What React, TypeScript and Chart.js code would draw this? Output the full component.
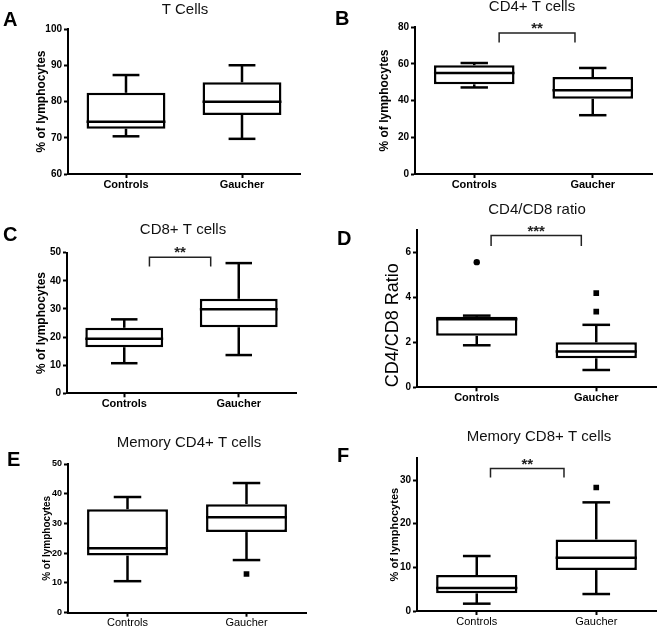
import React, { useEffect, useRef } from 'react';
import { Chart, registerables } from 'chart.js';

Chart.register(...registerables);

const FONT = '"Liberation Sans", Arial, sans-serif';
const categories = ['Controls', 'Gaucher'];

// A: T Cells
const tCellsQ1 = [72.5, 76.3];
const tCellsMedian = [74.4, 79.9];
const tCellsQ3 = [82.4, 85.3];
const tCellsMin = [70.4, 69.7];
const tCellsMax = [87.3, 90.0];
const tCellsTicks = [60, 70, 80, 90, 100];

// B: CD4+ T cells
const cd4Q1 = [48.8, 40.9];
const cd4Median = [55.0, 45.6];
const cd4Q3 = [59.2, 52.8];
const cd4Min = [47.1, 32.0];
const cd4Max = [60.4, 57.7];
const cd4Ticks = [0, 20, 40, 60, 80];

// C: CD8+ T cells
const cd8Q1 = [16.4, 23.5];
const cd8Median = [19.4, 29.9];
const cd8Q3 = [23.3, 33.6];
const cd8Min = [10.7, 13.6];
const cd8Max = [26.3, 46.3];
const cd8Ticks = [0, 10, 20, 30, 40, 50];

// D: CD4/CD8 ratio
const ratioQ1 = [2.29, 1.29];
const ratioMedian = [3.03, 1.59];
const ratioQ3 = [3.14, 2.0];
const ratioMin = [1.87, 0.77];
const ratioMax = [3.19, 2.78];
const ratioOutlierGroups = ['Controls', 'Gaucher', 'Gaucher'];
const ratioOutlierValues = [5.57, 4.19, 3.37];
const ratioTicks = [0, 2, 4, 6];

// E: Memory CD4+ T cells
const memCd4Q1 = [19.2, 27.1];
const memCd4Median = [21.7, 32.1];
const memCd4Q3 = [34.8, 36.5];
const memCd4Min = [10.6, 17.7];
const memCd4Max = [38.9, 43.6];
const memCd4OutlierGroups = ['Gaucher'];
const memCd4OutlierValues = [13.0];
const memCd4Ticks = [0, 10, 20, 30, 40, 50];

// F: Memory CD8+ T cells
const memCd8Q1 = [4.05, 9.38];
const memCd8Median = [5.3, 12.2];
const memCd8Q3 = [8.24, 16.4];
const memCd8Min = [1.68, 3.89];
const memCd8Max = [12.6, 24.9];
const memCd8OutlierGroups = ['Gaucher'];
const memCd8OutlierValues = [28.3];
const memCd8Ticks = [0, 10, 20, 30];

// significance brackets: [from category position, to category position], [top value, bottom value]
const cd4Bracket = { x: [0.21, 0.85], y: [76.7, 71.5], label: '**' };
const cd8Bracket = { x: [0.22, 0.755], y: [48.4, 45.1], label: '**' };
const ratioBracket = { x: [0.12, 0.875], y: [6.75, 6.29], label: '***' };
const memCd8Bracket = { x: [0.115, 0.73], y: [32.65, 30.6], label: '**' };

type Font = { size: number; weight: string };

interface PanelCfg {
  x: number; y: number; w: number; h: number;
  area: { left: number; right: number; top: number; bottom: number };
  yMin: number; yMax: number; ticks: number[];
  title: string; titlePos: [number, number];
  letter: string; letterPos: [number, number];
  yLabel: string; yLabelX: number; yLabelFont: Font; yLabelAlign?: string;
  yTickFont: Font; xTickFont: Font;
  q1: number[]; med: number[]; q3: number[]; lo: number[]; hi: number[];
  outGroups?: string[]; outValues?: number[];
  bracket?: { x: number[]; y: number[]; label: string };
}

const boldTick: Font = { size: 10, weight: 'bold' };
const boldX: Font = { size: 11, weight: 'bold' };

const panels: PanelCfg[] = [
  {
    x: 0, y: 0, w: 330, h: 205,
    area: { left: 68, right: 300, top: 29, bottom: 174 },
    yMin: 60, yMax: 100, ticks: tCellsTicks,
    title: 'T Cells', titlePos: [185, 10], letter: 'A', letterPos: [3, 20.5],
    yLabel: '% of lymphocytes', yLabelX: 42, yLabelFont: { size: 12, weight: 'bold' },
    yTickFont: boldTick, xTickFont: boldX,
    q1: tCellsQ1, med: tCellsMedian, q3: tCellsQ3, lo: tCellsMin, hi: tCellsMax,
  },
  {
    x: 330, y: 0, w: 330, h: 205,
    area: { left: 85, right: 322, top: 27, bottom: 174 },
    yMin: 0, yMax: 80, ticks: cd4Ticks,
    title: 'CD4+ T cells', titlePos: [202, 6.5], letter: 'B', letterPos: [5, 19.5],
    yLabel: '% of lymphocytes', yLabelX: 55, yLabelFont: { size: 12, weight: 'bold' },
    yTickFont: boldTick, xTickFont: boldX,
    q1: cd4Q1, med: cd4Median, q3: cd4Q3, lo: cd4Min, hi: cd4Max,
    bracket: cd4Bracket,
  },
  {
    x: 0, y: 195, w: 330, h: 220,
    area: { left: 67, right: 296, top: 57.7, bottom: 198.3 },
    yMin: 0, yMax: 50, ticks: cd8Ticks,
    title: 'CD8+ T cells', titlePos: [183, 35], letter: 'C', letterPos: [3, 40],
    yLabel: '% of lymphocytes', yLabelX: 42, yLabelFont: { size: 12, weight: 'bold' },
    yTickFont: boldTick, xTickFont: boldX,
    q1: cd8Q1, med: cd8Median, q3: cd8Q3, lo: cd8Min, hi: cd8Max,
    bracket: cd8Bracket,
  },
  {
    x: 330, y: 195, w: 330, h: 220,
    area: { left: 87, right: 327, top: 35, bottom: 192.3 },
    yMin: 0, yMax: 7, ticks: ratioTicks,
    title: 'CD4/CD8 ratio', titlePos: [207, 15], letter: 'D', letterPos: [7, 44.5],
    yLabel: 'CD4/CD8 Ratio', yLabelX: 63, yLabelFont: { size: 18, weight: 'normal' }, yLabelAlign: 'start',
    yTickFont: boldTick, xTickFont: boldX,
    q1: ratioQ1, med: ratioMedian, q3: ratioQ3, lo: ratioMin, hi: ratioMax,
    outGroups: ratioOutlierGroups, outValues: ratioOutlierValues,
    bracket: ratioBracket,
  },
  {
    x: 0, y: 410, w: 330, h: 218,
    area: { left: 68, right: 306, top: 54, bottom: 202.7 },
    yMin: 0, yMax: 50, ticks: memCd4Ticks,
    title: 'Memory CD4+ T cells', titlePos: [189, 33], letter: 'E', letterPos: [7, 50],
    yLabel: '% of lymphocytes', yLabelX: 47, yLabelFont: { size: 10, weight: 'bold' },
    yTickFont: { size: 9, weight: 'bold' }, xTickFont: { size: 11, weight: 'normal' },
    q1: memCd4Q1, med: memCd4Median, q3: memCd4Q3, lo: memCd4Min, hi: memCd4Max,
    outGroups: memCd4OutlierGroups, outValues: memCd4OutlierValues,
  },
  {
    x: 330, y: 410, w: 330, h: 218,
    area: { left: 87, right: 329, top: 48.3, bottom: 201 },
    yMin: 0, yMax: 35, ticks: memCd8Ticks,
    title: 'Memory CD8+ T cells', titlePos: [209, 27], letter: 'F', letterPos: [7, 46.5],
    yLabel: '% of lymphocytes', yLabelX: 65, yLabelFont: { size: 11, weight: 'bold' },
    yTickFont: { size: 10, weight: 'bold' }, xTickFont: { size: 11, weight: 'normal' },
    q1: memCd8Q1, med: memCd8Median, q3: memCd8Q3, lo: memCd8Min, hi: memCd8Max,
    outGroups: memCd8OutlierGroups, outValues: memCd8OutlierValues,
    bracket: memCd8Bracket,
  },
];

function makePlugin(cfg: PanelCfg) {
  return {
    id: 'boxDecor' + cfg.letter,
    afterDatasetsDraw(chart: any) {
      const ctx = chart.ctx;
      const xs = chart.scales.x;
      const ys = chart.scales.y;
      const meta = chart.getDatasetMeta(0);
      const line = (x1: number, y1: number, x2: number, y2: number) => {
        ctx.beginPath();
        ctx.moveTo(x1, y1);
        ctx.lineTo(x2, y2);
        ctx.stroke();
      };
      ctx.save();
      ctx.strokeStyle = '#000';
      ctx.lineWidth = 2.5;
      ctx.lineCap = 'butt';
      categories.forEach((_, i) => {
        const bar = meta.data[i];
        const cx = bar.x;
        const w = bar.width;
        const py = (v: number) => ys.getPixelForValue(v);
        line(cx - w / 2, py(cfg.med[i]), cx + w / 2, py(cfg.med[i]));
        line(cx, py(cfg.q3[i]), cx, py(cfg.hi[i]));
        line(cx, py(cfg.q1[i]), cx, py(cfg.lo[i]));
        const cw = w * 0.34;
        line(cx - cw / 2, py(cfg.hi[i]), cx + cw / 2, py(cfg.hi[i]));
        line(cx - cw / 2, py(cfg.lo[i]), cx + cw / 2, py(cfg.lo[i]));
      });
      if (cfg.bracket) {
        const b = cfg.bracket;
        const x1 = xs.getPixelForValue(b.x[0]);
        const x2 = xs.getPixelForValue(b.x[1]);
        const yt = ys.getPixelForValue(b.y[0]);
        const yb = ys.getPixelForValue(b.y[1]);
        ctx.strokeStyle = '#222';
        ctx.lineWidth = 1.5;
        ctx.beginPath();
        ctx.moveTo(x1, yb);
        ctx.lineTo(x1, yt);
        ctx.lineTo(x2, yt);
        ctx.lineTo(x2, yb);
        ctx.stroke();
        ctx.fillStyle = '#222';
        ctx.font = `bold 15px ${FONT}`;
        ctx.textAlign = 'center';
        ctx.textBaseline = 'alphabetic';
        ctx.fillText(b.label, (x1 + x2) / 2, yt);
      }
      ctx.restore();
    },
    afterDraw(chart: any) {
      const ctx = chart.ctx;
      ctx.save();
      ctx.fillStyle = '#111';
      ctx.textAlign = 'center';
      ctx.textBaseline = 'middle';
      ctx.font = `15px ${FONT}`;
      ctx.fillText(cfg.title, cfg.titlePos[0], cfg.titlePos[1]);
      ctx.fillStyle = '#000';
      ctx.textAlign = 'left';
      ctx.font = `bold 20px ${FONT}`;
      ctx.fillText(cfg.letter, cfg.letterPos[0], cfg.letterPos[1]);
      ctx.restore();
    },
  };
}

function Panel({ cfg }: { cfg: PanelCfg }) {
  const ref = useRef<HTMLCanvasElement>(null);
  useEffect(() => {
    if (!ref.current) return;
    const a = cfg.area;
    const lh = cfg.yLabelFont.size * 1.2;
    const datasets: any[] = [
      {
        type: 'bar',
        data: cfg.q1.map((v, i) => [v, cfg.q3[i]]),
        backgroundColor: '#fff',
        borderColor: '#000',
        borderWidth: 2.5,
        borderSkipped: false,
        barPercentage: 0.68,
        categoryPercentage: 1,
        order: 2,
      },
    ];
    if (cfg.outGroups && cfg.outValues) {
      datasets.push({
        type: 'line',
        data: cfg.outGroups.map((g, i) => ({ x: g, y: cfg.outValues![i] })),
        showLine: false,
        pointStyle: cfg.outGroups.map((g) => (g === 'Controls' ? 'circle' : 'rect')),
        pointRadius: cfg.outGroups.map((g) => (g === 'Controls' ? 3.2 : 4)),
        backgroundColor: '#000',
        borderColor: '#000',
        borderWidth: 0,
        order: 1,
      });
    }
    const gridCfg = {
      display: true,
      drawOnChartArea: false,
      drawTicks: true,
      tickLength: 4,
      tickWidth: 2,
      tickColor: '#000',
      offset: false,
    };
    const chart = new Chart(ref.current, {
      type: 'bar',
      data: { labels: categories, datasets },
      options: {
        responsive: false,
        animation: false,
        devicePixelRatio: 1,
        layout: { padding: { left: 0, top: a.top, right: cfg.w - a.right, bottom: 0 } },
        plugins: { legend: { display: false }, tooltip: { enabled: false }, title: { display: false } },
        scales: {
          x: {
            type: 'category',
            offset: true,
            grid: gridCfg,
            border: { display: true, color: '#000', width: 2 },
            ticks: {
              color: '#000',
              padding: 0,
              maxRotation: 0,
              font: { family: FONT, size: cfg.xTickFont.size, weight: cfg.xTickFont.weight },
            },
            afterFit: (s: any) => { s.height = cfg.h - a.bottom; },
          },
          y: {
            type: 'linear',
            min: cfg.yMin,
            max: cfg.yMax,
            grid: gridCfg,
            border: { display: true, color: '#000', width: 2 },
            afterBuildTicks: (s: any) => { s.ticks = cfg.ticks.map((v) => ({ value: v })); },
            ticks: {
              color: '#000',
              padding: 2,
              font: { family: FONT, size: cfg.yTickFont.size, weight: cfg.yTickFont.weight },
            },
            title: {
              display: true,
              text: cfg.yLabel,
              color: '#000',
              align: cfg.yLabelAlign || 'center',
              font: { family: FONT, size: cfg.yLabelFont.size, weight: cfg.yLabelFont.weight },
              padding: { top: cfg.yLabelX - lh / 2, bottom: 0 },
            },
            afterFit: (s: any) => { s.width = a.left; },
          },
        },
      } as any,
      plugins: [makePlugin(cfg)],
    } as any);
    return () => chart.destroy();
  }, [cfg]);
  return (
    <canvas
      ref={ref}
      width={cfg.w}
      height={cfg.h}
      style={{ position: 'absolute', left: cfg.x, top: cfg.y, width: cfg.w, height: cfg.h }}
    />
  );
}

export default function App() {
  return (
    <div style={{ position: 'absolute', left: 0, top: 0, width: 660, height: 628, background: '#fff', overflow: 'hidden' }}>
      {panels.map((p) => (
        <Panel key={p.letter} cfg={p} />
      ))}
    </div>
  );
}
